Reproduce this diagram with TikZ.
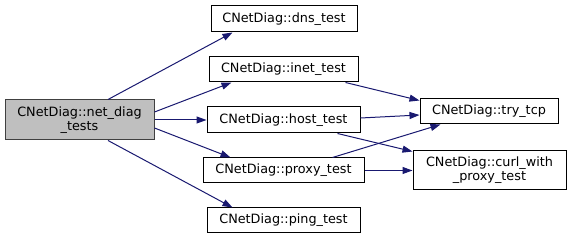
\documentclass[tikz,border=0pt]{standalone}
\usepackage{fontspec}
\setmainfont{DejaVu Sans}
\usetikzlibrary{arrows.meta,positioning}
\definecolor{edgeBlue}{RGB}{25,25,112}
\definecolor{rootGray}{RGB}{191,191,191}

\tikzset{
  fn/.style={draw=black, line width=1pt, fill=white, inner sep=0pt, align=center,
    font=\fontsize{12.8}{14}\selectfont},
  call/.style={draw=edgeBlue, line width=1pt, -{Triangle[length=10pt,width=7pt]}}
}

\begin{document}
\begin{tikzpicture}[x=1pt,y=-1pt]
  \useasboundingbox (0,0) rectangle (571,240);

  % the caller
  \node[fn, fill=rootGray, draw=black!75, minimum width=149pt, minimum height=40pt] (netDiag) at (79.5,120) {CNetDiag::net\_diag\\\_tests};

  % first level of callees
  \node[fn, minimum width=146pt, minimum height=26pt] (dns)   at (284,19)    {CNetDiag::dns\_test};
  \node[fn, minimum width=149pt, minimum height=25pt] (inet)  at (283.5,69.5) {CNetDiag::inet\_test};
  \node[fn, minimum width=153pt, minimum height=26pt] (host)  at (283.5,120)  {CNetDiag::host\_test};
  \node[fn, minimum width=161pt, minimum height=25pt] (proxy) at (283.5,170.5) {CNetDiag::proxy\_test};
  \node[fn, minimum width=153pt, minimum height=25pt] (ping)  at (283.5,220.5) {CNetDiag::ping\_test};

  % second level
  \node[fn, minimum width=138pt, minimum height=25pt] (tryTcp) at (489,111.5) {CNetDiag::try\_tcp};
  \node[fn, minimum width=153pt, minimum height=39pt] (curl)   at (489.5,170.5) {CNetDiag::curl\_with\\\_proxy\_test};

  % calls from net_diag_tests
  \draw[call] ([xshift=28.5pt]netDiag.north) -- ([xshift=22pt]dns.south west);
  \draw[call] ([yshift=8pt]netDiag.east) -- ([xshift=23pt]inet.south west);
  \draw[call] (netDiag.east) -- (host.west);
  \draw[call] ([yshift=-8pt]netDiag.east) -- ([xshift=28pt]proxy.north west);
  \draw[call] ([xshift=28.5pt]netDiag.south) -- ([xshift=26pt]ping.north west);

  % calls further down
  \draw[call] ([xshift=-13pt]inet.south east) -- ([yshift=-2pt]tryTcp.north west);
  \draw[call] ([yshift=2pt]host.east) -- ([yshift=-3.5pt]tryTcp.west);
  \draw[call] ([xshift=-23pt]host.south east) -- ([yshift=-1pt]curl.north west);
  \draw[call] ([xshift=-32pt]proxy.north east) -- ([xshift=21pt]tryTcp.south west);
  \draw[call] (proxy.east) -- (curl.west);

\end{tikzpicture}
\end{document}
